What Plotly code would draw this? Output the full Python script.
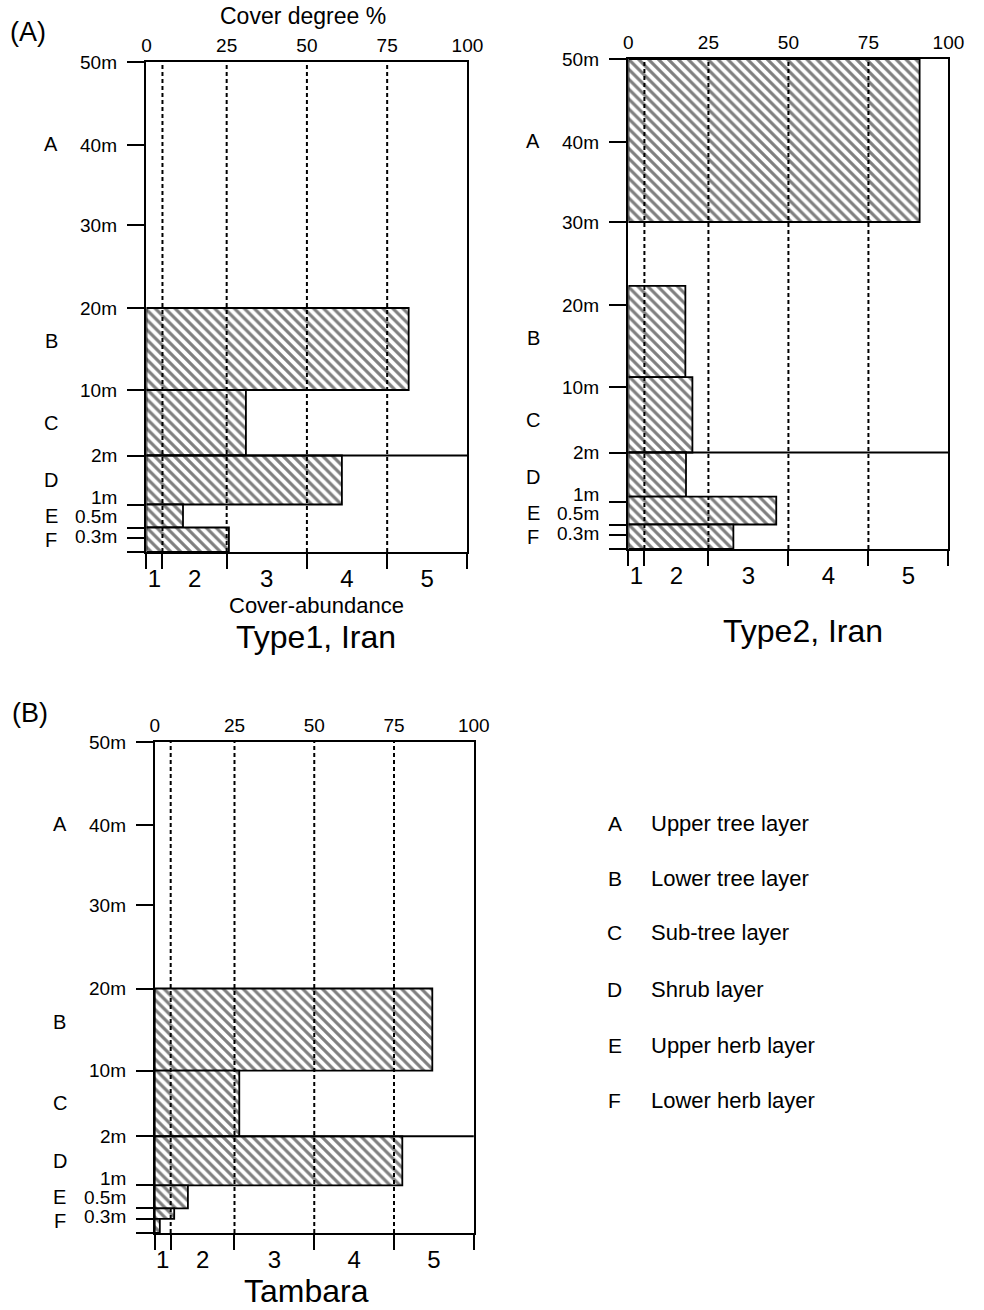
import numpy as np
import plotly.graph_objects as go

# ---------------- data ----------------
height_ticks_m = [0, 0.3, 0.5, 1, 2, 10, 20, 30, 40, 50]
height_tick_labels = ["0m", "0.3m", "0.5m", "1m", "2m", "10m", "20m", "30m", "40m", "50m"]

cover_ticks = [0, 25, 50, 75, 100]
abundance_bounds = [0, 5, 25, 50, 75, 100]
abundance_labels = ["1", "2", "3", "4", "5"]
dashed_cover = [5, 25, 50, 75]

layer_codes = ["A", "B", "C", "D", "E", "F"]
layer_names = ["Upper tree layer", "Lower tree layer", "Sub-tree layer",
               "Shrub layer", "Upper herb layer", "Lower herb layer"]
layer_bottom_m = [30, 10, 2, 1, 0.5, 0]
layer_top_m = [50, 20, 10, 2, 1, 0.5]

type1_bottom_m = [10, 2, 1, 0.5, 0]
type1_top_m = [20, 10, 2, 1, 0.5]
type1_cover = [81.7, 31.0, 60.9, 11.4, 25.7]

type2_bottom_m = [30, 11.2, 2, 1.1, 0.5, 0]
type2_top_m = [50, 22.3, 11.2, 2, 1.1, 0.5]
type2_cover = [91.0, 17.8, 20.0, 18.0, 46.2, 32.8]

tambara_bottom_m = [10, 2, 1, 0.5, 0.3, 0]
tambara_top_m = [20, 10, 2, 1, 0.5, 0.3]
tambara_cover = [87.0, 26.5, 77.6, 10.4, 6.1, 1.6]

panel_titles = ["Type1, Iran", "Type2, Iran", "Tambara"]

# ---------------- axis scale (piecewise height axis) ----------------
axis_scale = [0, 14, 24.5, 47.5, 96.5, 162, 244, 327, 407, 490]


def hpos(h):
    return np.interp(h, height_ticks_m, axis_scale)


W, H = 984, 1310
FONT = "Liberation Sans, Arial, Helvetica, sans-serif"


def fx(X):
    return X / W


def fy(Y):
    return 1 - Y / H


# panel frames in page px: (left, right, top, bottom)
frames = [(144.5, 472.5, 62, 552), (637, 964, 59, 549), (153, 479, 742, 1233)]
panels = [(type1_bottom_m, type1_top_m, type1_cover),
          (type2_bottom_m, type2_top_m, type2_cover),
          (tambara_bottom_m, tambara_top_m, tambara_cover)]
# label nudges in px (upwards) for crowded height labels
label_nudge = {"1m": 7, "0.5m": 11, "0.3m": 2, "0m": -3}
letter_nudge = {"B": 8}

fig = go.Figure()
layout = dict(width=W, height=H, margin=dict(l=0, r=0, t=0, b=0),
              paper_bgcolor="white", plot_bgcolor="white", showlegend=False,
              barmode="overlay", font=dict(family=FONT, color="black"))
annotations = []
shapes = []

for k, ((l, r, t, b), (bot, top, cov)) in enumerate(zip(frames, panels)):
    xb = f"x{2*k+1}" if k > 0 else "x"
    xt = f"x{2*k+2}"
    ya = f"y{k+1}" if k > 0 else "y"
    xb_name = "xaxis" + (str(2*k+1) if k > 0 else "")
    xt_name = "xaxis" + str(2*k+2)
    ya_name = "yaxis" + (str(k+1) if k > 0 else "")

    bot_p = hpos(bot)
    top_p = hpos(top)
    fig.add_trace(go.Bar(
        orientation="h", x=cov, y=(bot_p + top_p) / 2, width=top_p - bot_p, base=0,
        xaxis=xb, yaxis=ya,
        marker=dict(color="white", line=dict(color="black", width=1.8),
                    pattern=dict(shape="\\", fgcolor="black", bgcolor="white",
                                 size=7, solidity=0.45)),
        hoverinfo="skip"))

    dx, dy = [], []
    for v in dashed_cover:
        dx += [v, v, None]
        dy += [0, axis_scale[-1], None]
    fig.add_trace(go.Scatter(x=dx, y=dy, mode="lines", xaxis=xt, yaxis=ya,
                             line=dict(color="black", width=2, dash="4px,3px"),
                             hoverinfo="skip"))

    dom_x = [fx(l), fx(r)]
    dom_y = [fy(b), fy(t)]
    layout[xb_name] = dict(domain=dom_x, anchor=ya, range=[0, 100], showline=True,
                           linewidth=2, linecolor="black", showgrid=False, zeroline=False,
                           tickmode="array",
                           tickvals=[(abundance_bounds[i] + abundance_bounds[i+1]) / 2
                                     for i in range(5)],
                           ticktext=abundance_labels, ticks="",
                           tickfont=dict(size=24, family=FONT), ticklabelstandoff=4,
                           minor=dict(tickmode="array", tickvals=abundance_bounds,
                                      ticks="outside", ticklen=15, tickwidth=2,
                                      tickcolor="black", showgrid=False))
    layout[xt_name] = dict(overlaying=xb, anchor=ya, side="top", range=[0, 100],
                           showline=True, linewidth=2, linecolor="black",
                           showgrid=False, zeroline=False, tickmode="array",
                           tickvals=cover_ticks, ticks="",
                           tickfont=dict(size=19, family=FONT))
    layout[ya_name] = dict(domain=dom_y, anchor=xb, range=[0, axis_scale[-1]],
                           showline=True, mirror=True, linewidth=2, linecolor="black",
                           showgrid=False, zeroline=False, tickmode="array",
                           tickvals=axis_scale, ticks="outside", ticklen=17,
                           tickwidth=2, tickcolor="black", showticklabels=False)

    # 2m separation line
    shapes.append(dict(type="line", xref=f"{xb} domain", yref=ya, x0=0, x1=1,
                       y0=float(hpos(2)), y1=float(hpos(2)),
                       line=dict(color="black", width=2)))

    for lab, pos in zip(height_tick_labels, axis_scale):
        annotations.append(dict(text=lab, xref=f"{xb} domain", yref=ya, x=0,
                                y=pos + label_nudge.get(lab, 0), xanchor="right",
                                yanchor="middle", xshift=-27, showarrow=False,
                                font=dict(size=19, family=FONT)))
    for code, lb, lt in zip(layer_codes, layer_bottom_m, layer_top_m):
        annotations.append(dict(text=code, xref=f"{xb} domain", yref=ya, x=0,
                                y=float((hpos(lb) + hpos(lt)) / 2) + letter_nudge.get(code, 0),
                                xanchor="center", yanchor="middle", xshift=-95,
                                showarrow=False, font=dict(size=20, family=FONT)))


def pa(text, x, y, size, xanchor="center"):
    annotations.append(dict(text=text, xref="paper", yref="paper", x=fx(x), y=fy(y),
                            xanchor=xanchor, yanchor="middle", showarrow=False,
                            font=dict(size=size, family=FONT)))


pa("(A)", 3, 32, 27, "left")
pa("(B)", 5, 713, 27, "left")
pa("Cover degree %", 304, 16, 23)
pa("Cover-abundance", 318, 605, 22)
pa(panel_titles[0], 318, 637, 32)
pa(panel_titles[1], 815, 631, 32)
pa(panel_titles[2], 308, 1291, 32)

legend_y = [823, 878, 933, 989, 1045, 1100]
for code, name, yy in zip(layer_codes, layer_names, legend_y):
    pa(code, 623, yy, 21)
    pa(name, 658, yy, 22, "left")

layout["annotations"] = annotations
layout["shapes"] = shapes
fig.update_layout(**layout)

post = ("document.body.style.margin='0';"
        "document.documentElement.style.overflow='hidden';"
        "document.body.style.overflow='hidden';"
        "var gd=document.getElementById('{plot_id}');"
        "Plotly.relayout(gd,{width:984,height:1310});")
fig.write_html("out.html", post_script=post, config={"displayModeBar": False})
